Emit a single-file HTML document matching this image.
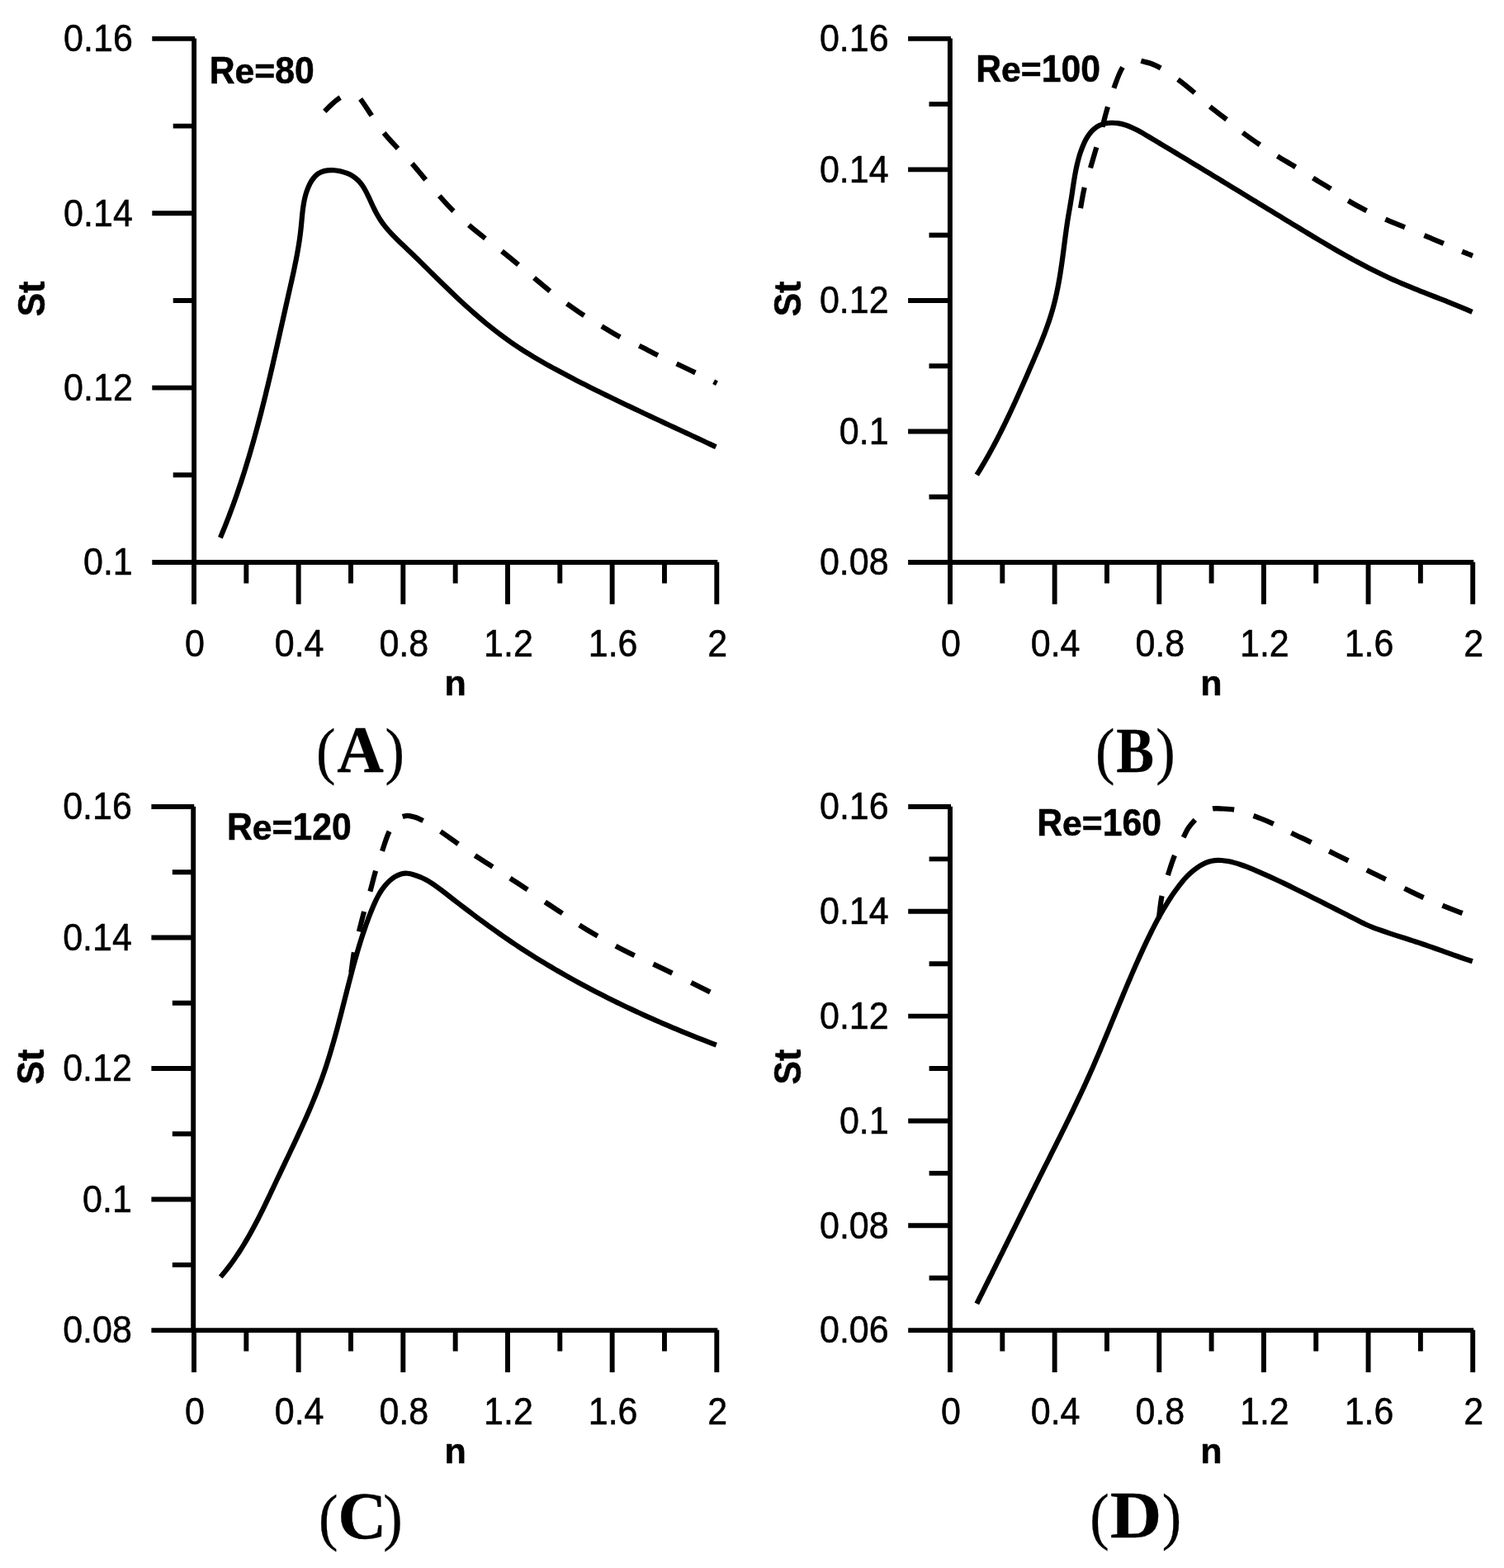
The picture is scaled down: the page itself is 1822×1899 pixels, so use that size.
<!DOCTYPE html>
<html lang="en"><head><meta charset="utf-8"><title>St versus n for Re = 80, 100, 120, 160</title>
<style>html,body{margin:0;padding:0;background:#fff}body{width:1822px;height:1899px;overflow:hidden}svg{display:block}.ax{stroke:#000;stroke-width:5.9;fill:none;stroke-linecap:butt}.cv{stroke:#000;stroke-width:6.2;fill:none;stroke-linecap:butt;stroke-linejoin:round}text{fill:#000;stroke:#000;stroke-width:0.55;stroke-linejoin:round;font-family:"Liberation Sans",Arial,Helvetica,sans-serif;font-size:43.0px}.b{font-weight:bold}.cap{font-family:"Liberation Serif","Times New Roman",serif;font-size:79px;stroke-width:0.3}</style></head><body>
<svg xmlns="http://www.w3.org/2000/svg" width="1822" height="1899" viewBox="0 0 1822 1899">
<rect width="1822" height="1899" fill="#fff"/>
<g id="panel-A">
<path class="ax" d="M235.10 46.60 V681.00M184.30 681.00 H869.30M209.70 575.32 H236.10M184.30 469.63 H236.10M209.70 363.95 H236.10M184.30 258.27 H236.10M209.70 152.58 H236.10M184.30 46.90 H236.10M235.00 680.70 V731.80M298.33 680.70 V706.40M361.66 680.70 V731.80M424.99 680.70 V706.40M488.32 680.70 V731.80M551.65 680.70 V706.40M614.98 680.70 V731.80M678.31 680.70 V706.40M741.64 680.70 V731.80M804.97 680.70 V706.40M868.30 680.70 V731.80"/>
<text y="696.30"><tspan x="101.02" font-size="45.30" textLength="59.78" lengthAdjust="spacingAndGlyphs">0.1</tspan></text>
<text y="484.93"><tspan x="77.11" font-size="45.30" textLength="83.69" lengthAdjust="spacingAndGlyphs">0.12</tspan></text>
<text y="273.57"><tspan x="77.11" font-size="45.30" textLength="83.69" lengthAdjust="spacingAndGlyphs">0.14</tspan></text>
<text y="62.20"><tspan x="77.11" font-size="45.30" textLength="83.69" lengthAdjust="spacingAndGlyphs">0.16</tspan></text>
<text y="795.00"><tspan x="224.04" font-size="45.30" textLength="23.91" lengthAdjust="spacingAndGlyphs">0</tspan></text>
<text y="795.00"><tspan x="332.77" font-size="45.30" textLength="59.78" lengthAdjust="spacingAndGlyphs">0.4</tspan></text>
<text y="795.00"><tspan x="459.43" font-size="45.30" textLength="59.78" lengthAdjust="spacingAndGlyphs">0.8</tspan></text>
<text y="795.00"><tspan x="586.09" font-size="45.30" textLength="59.78" lengthAdjust="spacingAndGlyphs">1.2</tspan></text>
<text y="795.00"><tspan x="712.75" font-size="45.30" textLength="59.78" lengthAdjust="spacingAndGlyphs">1.6</tspan></text>
<text y="795.00"><tspan x="857.34" font-size="45.30" textLength="23.91" lengthAdjust="spacingAndGlyphs">2</tspan></text>
<text class="b" y="841.70"><tspan x="538.43" font-size="42.30" textLength="26.27" lengthAdjust="spacingAndGlyphs">n</tspan></text>
<text class="b" transform="translate(54.10 361.95) rotate(-90)" y="0"><tspan x="-21.35" font-size="45.50" textLength="28.48" lengthAdjust="spacingAndGlyphs">S</tspan><tspan x="7.13" font-size="45.50" textLength="14.22" lengthAdjust="spacingAndGlyphs">t</tspan></text>
<text class="b" y="101.40"><tspan x="253.64" font-size="45.50" textLength="30.84" lengthAdjust="spacingAndGlyphs">R</tspan><tspan x="284.48" font-size="42.50" textLength="48.68" lengthAdjust="spacingAndGlyphs">e=</tspan><tspan x="333.16" font-size="45.50" textLength="47.50" lengthAdjust="spacingAndGlyphs">80</tspan></text>
<path class="cv" d="M266.90 651.20C267.94 648.74 268.96 646.27 269.97 643.80C270.99 641.33 271.99 638.86 272.97 636.38C273.96 633.90 274.93 631.42 275.90 628.94C276.86 626.45 277.81 623.96 278.75 621.46C279.68 618.97 280.61 616.47 281.53 613.97C282.44 611.47 283.35 608.96 284.24 606.46C285.13 603.95 286.02 601.43 286.89 598.92C287.76 596.40 288.62 593.88 289.47 591.36C290.32 588.84 291.16 586.31 292.00 583.78C292.83 581.25 293.65 578.72 294.46 576.19C295.27 573.65 296.08 571.11 296.87 568.57C297.66 566.03 298.45 563.49 299.22 560.94C300.00 558.39 300.77 555.84 301.53 553.29C302.29 550.74 303.04 548.18 303.78 545.63C304.52 543.07 305.26 540.51 305.99 537.95C306.71 535.39 307.43 532.82 308.15 530.26C308.86 527.69 309.57 525.12 310.27 522.55C310.96 519.98 311.66 517.41 312.34 514.83C313.03 512.26 313.71 509.68 314.38 507.10C315.06 504.52 315.73 501.94 316.39 499.36C317.05 496.78 317.71 494.20 318.36 491.61C319.01 489.03 319.66 486.44 320.30 483.85C320.94 481.27 321.58 478.68 322.21 476.09C322.84 473.50 323.47 470.91 324.09 468.31C324.72 465.72 325.34 463.13 325.95 460.53C326.57 457.94 327.18 455.34 327.79 452.75C328.40 450.15 329.01 447.55 329.61 444.95C330.21 442.36 330.81 439.76 331.41 437.16C332.01 434.56 332.60 431.96 333.20 429.36C333.79 426.76 334.38 424.16 334.97 421.56C335.56 418.96 336.15 416.36 336.73 413.76C337.32 411.16 337.90 408.56 338.49 405.96C339.07 403.36 339.65 400.76 340.23 398.15C340.82 395.55 341.40 392.95 341.98 390.35C342.56 387.75 343.14 385.15 343.72 382.55C344.30 379.96 344.88 377.36 345.47 374.76C346.05 372.16 346.63 369.56 347.21 366.97C347.80 364.37 348.38 361.77 348.97 359.18C349.55 356.58 350.14 353.99 350.72 351.39C351.31 348.80 351.90 346.21 352.48 343.61C353.06 341.02 353.64 338.42 354.22 335.83C354.79 333.23 355.35 330.64 355.91 328.04C356.46 325.44 357.01 322.84 357.54 320.24C358.07 317.63 358.59 315.03 359.09 312.42C359.59 309.81 360.08 307.19 360.54 304.58C361.01 301.96 361.45 299.34 361.88 296.71C362.30 294.08 362.70 291.45 363.07 288.81C363.44 286.17 363.79 283.52 364.11 280.87C364.42 278.22 364.71 275.56 364.96 272.89C365.22 270.23 365.46 267.56 365.71 264.89C365.95 262.22 366.21 259.55 366.50 256.89C366.79 254.24 367.12 251.59 367.53 248.96C367.93 246.33 368.40 243.71 368.97 241.12C369.54 238.53 370.21 235.96 371.01 233.42C371.81 230.89 372.74 228.38 373.83 225.91C374.92 223.45 376.16 221.00 377.61 218.74C379.06 216.47 380.72 214.37 382.62 212.61C384.52 210.84 386.69 209.42 389.10 208.42C391.51 207.41 394.13 206.78 396.83 206.44C399.52 206.11 402.27 206.06 404.97 206.23C407.67 206.40 410.34 206.80 412.96 207.41C415.57 208.02 418.14 208.85 420.65 209.88C423.16 210.90 425.60 212.13 427.85 213.57C430.10 215.01 432.13 216.67 433.96 218.52C435.78 220.37 437.42 222.40 438.91 224.56C440.41 226.71 441.77 229.00 443.03 231.36C444.30 233.72 445.48 236.15 446.63 238.61C447.77 241.07 448.88 243.55 450.00 246.00C451.12 248.45 452.26 250.87 453.44 253.25C454.62 255.63 455.84 257.97 457.13 260.27C458.42 262.56 459.77 264.81 461.22 267.01C462.67 269.20 464.21 271.34 465.85 273.43C467.48 275.52 469.20 277.56 470.98 279.56C472.76 281.56 474.61 283.52 476.50 285.46C478.38 287.39 480.31 289.30 482.27 291.19C484.22 293.08 486.19 294.95 488.16 296.81C490.13 298.67 492.10 300.53 494.05 302.39C496.00 304.25 497.93 306.10 499.85 307.96C501.78 309.82 503.68 311.68 505.58 313.54C507.48 315.39 509.37 317.25 511.26 319.11C513.14 320.96 515.02 322.82 516.89 324.67C518.77 326.53 520.63 328.38 522.50 330.23C524.37 332.08 526.24 333.93 528.11 335.78C529.98 337.63 531.85 339.47 533.73 341.31C535.60 343.16 537.48 345.00 539.37 346.83C541.26 348.67 543.16 350.51 545.07 352.34C546.98 354.17 548.89 356.00 550.82 357.82C552.75 359.65 554.69 361.46 556.64 363.28C558.59 365.09 560.55 366.89 562.52 368.69C564.49 370.49 566.47 372.28 568.47 374.06C570.46 375.84 572.47 377.61 574.48 379.37C576.50 381.13 578.52 382.88 580.56 384.62C582.60 386.35 584.65 388.08 586.71 389.78C588.78 391.49 590.85 393.19 592.94 394.87C595.02 396.55 597.12 398.21 599.23 399.86C601.34 401.51 603.46 403.14 605.60 404.75C607.73 406.36 609.88 407.95 612.04 409.53C614.20 411.10 616.38 412.65 618.56 414.18C620.75 415.71 622.95 417.22 625.16 418.71C627.37 420.19 629.60 421.66 631.83 423.10C634.07 424.55 636.32 425.97 638.57 427.38C640.83 428.79 643.10 430.17 645.38 431.55C647.66 432.92 649.95 434.27 652.24 435.61C654.54 436.95 656.85 438.28 659.16 439.59C661.47 440.91 663.79 442.21 666.12 443.49C668.45 444.78 670.78 446.06 673.12 447.33C675.46 448.60 677.81 449.85 680.16 451.10C682.51 452.35 684.86 453.60 687.22 454.83C689.58 456.07 691.94 457.30 694.30 458.52C696.67 459.75 699.03 460.97 701.41 462.18C703.78 463.40 706.15 464.60 708.53 465.81C710.90 467.01 713.28 468.21 715.67 469.40C718.05 470.60 720.44 471.78 722.82 472.97C725.21 474.15 727.60 475.33 729.99 476.51C732.39 477.69 734.78 478.86 737.18 480.03C739.58 481.19 741.98 482.36 744.38 483.52C746.78 484.68 749.18 485.84 751.58 486.99C753.99 488.15 756.40 489.30 758.80 490.45C761.21 491.59 763.62 492.74 766.03 493.88C768.44 495.03 770.85 496.17 773.26 497.31C775.68 498.44 778.09 499.58 780.50 500.71C782.92 501.85 785.33 502.98 787.75 504.11C790.16 505.24 792.58 506.37 795.00 507.50C797.41 508.63 799.83 509.76 802.25 510.88C804.67 512.01 807.08 513.13 809.50 514.26C811.92 515.38 814.33 516.51 816.75 517.63C819.17 518.76 821.59 519.88 824.00 521.00C826.42 522.13 828.83 523.25 831.25 524.37C833.66 525.50 836.08 526.62 838.49 527.75C840.91 528.87 843.32 530.00 845.73 531.12C848.14 532.25 850.55 533.38 852.96 534.51C855.37 535.64 857.78 536.77 860.19 537.90C862.59 539.03 865.00 540.16 867.40 541.30"/>
<path class="cv" d="M393.20 134.90C396.47 131.70 399.54 128.28 403.00 125.30C405.93 122.78 408.93 120.23 412.20 118.20M436.60 119.80C441.56 126.28 445.66 133.38 450.30 140.10M465.10 161.00C470.36 167.60 476.28 173.68 482.00 179.90M499.20 198.10C504.89 204.49 510.17 211.26 515.70 217.80M532.30 237.30C537.87 243.55 543.45 249.82 549.40 255.70M568.00 272.60C574.47 278.15 581.21 283.40 587.90 288.70M608.00 304.30C614.73 309.65 621.37 315.12 628.00 320.60M647.10 336.60C653.49 341.94 659.75 347.46 666.30 352.60M686.80 367.70C693.70 372.63 700.59 377.59 707.70 382.20M729.00 395.10C736.41 399.54 743.65 404.31 751.30 408.30M774.30 418.80C781.93 422.46 789.36 426.55 797.00 430.20M819.60 440.50C827.23 444.06 834.82 447.73 842.40 451.40M864.60 462.30C865.90 462.96 867.20 463.63 868.50 464.30"/>
<text class="cap" y="935.30"><tspan x="382.91" font-size="76.30" textLength="23.44" lengthAdjust="spacingAndGlyphs">(</tspan><tspan x="408.24" font-size="79.40" textLength="56.55" lengthAdjust="spacingAndGlyphs" font-weight="bold">A</tspan><tspan x="466.53" font-size="76.30" textLength="23.44" lengthAdjust="spacingAndGlyphs">)</tspan></text>
</g>
<g id="panel-B">
<path class="ax" d="M1150.90 46.60 V681.00M1100.10 681.00 H1785.20M1125.50 601.74 H1151.90M1100.10 522.48 H1151.90M1125.50 443.21 H1151.90M1100.10 363.95 H1151.90M1125.50 284.69 H1151.90M1100.10 205.42 H1151.90M1125.50 126.16 H1151.90M1100.10 46.90 H1151.90M1151.00 680.70 V731.80M1214.32 680.70 V706.40M1277.64 680.70 V731.80M1340.96 680.70 V706.40M1404.28 680.70 V731.80M1467.60 680.70 V706.40M1530.92 680.70 V731.80M1594.24 680.70 V706.40M1657.56 680.70 V731.80M1720.88 680.70 V706.40M1784.20 680.70 V731.80"/>
<text y="696.30"><tspan x="992.91" font-size="45.30" textLength="83.69" lengthAdjust="spacingAndGlyphs">0.08</tspan></text>
<text y="537.77"><tspan x="1016.82" font-size="45.30" textLength="59.78" lengthAdjust="spacingAndGlyphs">0.1</tspan></text>
<text y="379.25"><tspan x="992.91" font-size="45.30" textLength="83.69" lengthAdjust="spacingAndGlyphs">0.12</tspan></text>
<text y="220.72"><tspan x="992.91" font-size="45.30" textLength="83.69" lengthAdjust="spacingAndGlyphs">0.14</tspan></text>
<text y="62.20"><tspan x="992.91" font-size="45.30" textLength="83.69" lengthAdjust="spacingAndGlyphs">0.16</tspan></text>
<text y="795.00"><tspan x="1140.04" font-size="45.30" textLength="23.91" lengthAdjust="spacingAndGlyphs">0</tspan></text>
<text y="795.00"><tspan x="1248.75" font-size="45.30" textLength="59.78" lengthAdjust="spacingAndGlyphs">0.4</tspan></text>
<text y="795.00"><tspan x="1375.39" font-size="45.30" textLength="59.78" lengthAdjust="spacingAndGlyphs">0.8</tspan></text>
<text y="795.00"><tspan x="1502.03" font-size="45.30" textLength="59.78" lengthAdjust="spacingAndGlyphs">1.2</tspan></text>
<text y="795.00"><tspan x="1628.67" font-size="45.30" textLength="59.78" lengthAdjust="spacingAndGlyphs">1.6</tspan></text>
<text y="795.00"><tspan x="1773.24" font-size="45.30" textLength="23.91" lengthAdjust="spacingAndGlyphs">2</tspan></text>
<text class="b" y="841.70"><tspan x="1454.38" font-size="42.30" textLength="26.27" lengthAdjust="spacingAndGlyphs">n</tspan></text>
<text class="b" transform="translate(969.90 361.95) rotate(-90)" y="0"><tspan x="-21.35" font-size="45.50" textLength="28.48" lengthAdjust="spacingAndGlyphs">S</tspan><tspan x="7.13" font-size="45.50" textLength="14.22" lengthAdjust="spacingAndGlyphs">t</tspan></text>
<text class="b" y="98.90"><tspan x="1182.14" font-size="45.50" textLength="30.84" lengthAdjust="spacingAndGlyphs">R</tspan><tspan x="1212.98" font-size="42.50" textLength="48.68" lengthAdjust="spacingAndGlyphs">e=</tspan><tspan x="1261.66" font-size="45.50" textLength="71.24" lengthAdjust="spacingAndGlyphs">100</tspan></text>
<path class="cv" d="M1183.30 575.10C1184.72 572.83 1186.13 570.55 1187.52 568.26C1188.90 565.97 1190.27 563.68 1191.63 561.38C1192.98 559.08 1194.31 556.77 1195.63 554.45C1196.95 552.14 1198.25 549.81 1199.54 547.48C1200.82 545.16 1202.09 542.82 1203.35 540.48C1204.61 538.14 1205.85 535.79 1207.08 533.44C1208.31 531.08 1209.53 528.72 1210.73 526.36C1211.94 524.00 1213.13 521.63 1214.31 519.25C1215.49 516.88 1216.66 514.50 1217.82 512.11C1218.98 509.73 1220.13 507.34 1221.27 504.94C1222.42 502.55 1223.55 500.15 1224.67 497.75C1225.80 495.35 1226.91 492.94 1228.02 490.53C1229.13 488.12 1230.23 485.70 1231.33 483.29C1232.43 480.87 1233.52 478.45 1234.61 476.02C1235.69 473.60 1236.77 471.17 1237.85 468.74C1238.93 466.31 1240.00 463.88 1241.07 461.44C1242.14 459.01 1243.21 456.57 1244.28 454.13C1245.35 451.69 1246.41 449.25 1247.48 446.81C1248.54 444.36 1249.60 441.92 1250.67 439.47C1251.73 437.02 1252.79 434.57 1253.84 432.12C1254.90 429.67 1255.94 427.21 1256.98 424.75C1258.01 422.29 1259.04 419.83 1260.05 417.36C1261.06 414.89 1262.06 412.42 1263.04 409.94C1264.02 407.46 1264.98 404.98 1265.92 402.49C1266.86 399.99 1267.78 397.50 1268.67 394.99C1269.56 392.48 1270.43 389.97 1271.26 387.45C1272.10 384.92 1272.90 382.39 1273.68 379.85C1274.45 377.31 1275.19 374.76 1275.89 372.20C1276.59 369.64 1277.25 367.07 1277.89 364.49C1278.52 361.92 1279.12 359.33 1279.69 356.73C1280.26 354.14 1280.80 351.54 1281.32 348.93C1281.84 346.32 1282.33 343.71 1282.80 341.09C1283.27 338.47 1283.71 335.84 1284.14 333.21C1284.57 330.59 1284.98 327.95 1285.38 325.32C1285.78 322.69 1286.16 320.05 1286.53 317.41C1286.90 314.77 1287.26 312.13 1287.61 309.50C1287.96 306.86 1288.30 304.22 1288.64 301.58C1288.98 298.94 1289.32 296.30 1289.66 293.67C1290.00 291.03 1290.34 288.39 1290.69 285.76C1291.04 283.12 1291.40 280.49 1291.77 277.85C1292.13 275.22 1292.51 272.59 1292.91 269.95C1293.31 267.32 1293.72 264.69 1294.16 262.06C1294.59 259.43 1295.05 256.80 1295.50 254.17C1295.96 251.55 1296.41 248.92 1296.86 246.29C1297.30 243.66 1297.73 241.03 1298.13 238.40C1298.54 235.77 1298.93 233.15 1299.32 230.52C1299.71 227.89 1300.09 225.27 1300.49 222.65C1300.89 220.03 1301.31 217.41 1301.74 214.80C1302.18 212.19 1302.65 209.58 1303.16 206.98C1303.66 204.38 1304.21 201.79 1304.81 199.21C1305.41 196.62 1306.07 194.05 1306.79 191.48C1307.51 188.92 1308.31 186.36 1309.18 183.82C1310.06 181.28 1311.02 178.75 1312.07 176.23C1313.13 173.72 1314.28 171.22 1315.57 168.83C1316.86 166.44 1318.28 164.14 1319.87 162.03C1321.45 159.91 1323.20 157.97 1325.16 156.28C1327.11 154.59 1329.27 153.16 1331.59 152.03C1333.92 150.90 1336.41 150.07 1339.00 149.53C1341.59 149.00 1344.28 148.75 1346.99 148.75C1349.70 148.74 1352.43 148.98 1355.10 149.41C1357.77 149.84 1360.38 150.48 1362.92 151.26C1365.46 152.05 1367.95 153.00 1370.38 154.05C1372.82 155.11 1375.21 156.28 1377.57 157.53C1379.94 158.77 1382.27 160.09 1384.58 161.44C1386.90 162.79 1389.19 164.16 1391.49 165.53C1393.79 166.90 1396.08 168.27 1398.37 169.64C1400.65 171.00 1402.94 172.37 1405.22 173.74C1407.50 175.10 1409.78 176.47 1412.05 177.83C1414.32 179.19 1416.60 180.56 1418.87 181.92C1421.14 183.29 1423.41 184.65 1425.67 186.02C1427.94 187.38 1430.21 188.75 1432.47 190.12C1434.74 191.49 1437.01 192.85 1439.27 194.22C1441.54 195.59 1443.80 196.96 1446.07 198.34C1448.34 199.71 1450.61 201.08 1452.87 202.46C1455.14 203.83 1457.41 205.21 1459.68 206.59C1461.95 207.96 1464.22 209.34 1466.49 210.72C1468.76 212.10 1471.03 213.48 1473.30 214.86C1475.57 216.24 1477.84 217.63 1480.11 219.01C1482.38 220.39 1484.65 221.78 1486.92 223.16C1489.19 224.54 1491.46 225.93 1493.74 227.32C1496.01 228.70 1498.28 230.09 1500.55 231.47C1502.83 232.86 1505.10 234.25 1507.37 235.64C1509.65 237.02 1511.92 238.41 1514.19 239.80C1516.47 241.19 1518.74 242.57 1521.01 243.96C1523.29 245.35 1525.56 246.74 1527.83 248.13C1530.11 249.52 1532.38 250.91 1534.66 252.29C1536.93 253.68 1539.21 255.07 1541.48 256.46C1543.76 257.85 1546.03 259.23 1548.31 260.62C1550.58 262.01 1552.86 263.40 1555.13 264.78C1557.41 266.17 1559.68 267.56 1561.96 268.94C1564.23 270.33 1566.51 271.71 1568.78 273.10C1571.06 274.48 1573.33 275.86 1575.61 277.25C1577.88 278.63 1580.16 280.01 1582.43 281.39C1584.71 282.77 1586.99 284.15 1589.27 285.52C1591.55 286.89 1593.83 288.26 1596.11 289.63C1598.39 290.99 1600.68 292.36 1602.96 293.71C1605.25 295.07 1607.54 296.42 1609.83 297.76C1612.12 299.11 1614.42 300.45 1616.72 301.78C1619.02 303.11 1621.32 304.43 1623.63 305.75C1625.94 307.07 1628.25 308.37 1630.56 309.67C1632.88 310.97 1635.20 312.26 1637.53 313.54C1639.85 314.82 1642.19 316.09 1644.52 317.34C1646.86 318.60 1649.20 319.85 1651.55 321.08C1653.90 322.32 1656.26 323.54 1658.62 324.75C1660.99 325.96 1663.36 327.15 1665.73 328.33C1668.11 329.52 1670.50 330.68 1672.89 331.84C1675.28 332.99 1677.68 334.13 1680.09 335.25C1682.50 336.37 1684.92 337.47 1687.35 338.56C1689.78 339.65 1692.22 340.72 1694.66 341.78C1697.11 342.83 1699.56 343.87 1702.02 344.90C1704.48 345.93 1706.94 346.95 1709.41 347.96C1711.88 348.96 1714.36 349.96 1716.84 350.95C1719.31 351.94 1721.80 352.93 1724.28 353.90C1726.76 354.88 1729.25 355.86 1731.73 356.83C1734.22 357.80 1736.71 358.77 1739.19 359.74C1741.68 360.71 1744.16 361.68 1746.64 362.66C1749.13 363.63 1751.60 364.61 1754.08 365.59C1756.56 366.57 1759.03 367.56 1761.49 368.56C1763.96 369.55 1766.42 370.56 1768.87 371.57C1771.33 372.58 1773.77 373.61 1776.21 374.65C1778.65 375.68 1781.08 376.73 1783.50 377.80"/>
<path class="cv" d="M1309.00 252.20C1310.60 243.77 1311.74 235.22 1313.80 226.90M1321.00 203.30C1323.48 194.98 1325.88 186.64 1328.30 178.30M1335.40 153.60C1337.65 145.55 1339.60 137.41 1342.00 129.40M1349.40 106.70C1352.55 98.16 1355.25 89.23 1360.00 81.50M1382.30 73.80C1386.32 75.01 1390.56 75.58 1394.50 77.00C1398.54 78.46 1402.40 80.48 1406.20 82.50M1427.00 96.20C1434.01 101.30 1440.70 106.87 1447.30 112.50M1465.80 129.20C1472.31 134.63 1479.34 139.43 1486.00 144.70M1505.50 160.60C1512.26 165.76 1519.26 170.62 1526.30 175.40M1547.50 189.10C1554.76 193.62 1562.22 197.81 1569.50 202.30M1590.60 215.70C1597.78 220.13 1605.20 224.16 1612.30 228.70M1633.30 243.00C1640.52 247.42 1648.04 251.39 1655.60 255.20M1678.30 265.70C1686.09 269.08 1694.05 272.05 1701.90 275.30M1725.40 285.20C1733.22 288.44 1741.11 291.50 1748.90 294.80M1771.20 304.60C1775.45 306.38 1779.73 308.07 1784.00 309.80"/>
<text class="cap" y="934.90"><tspan x="1327.11" font-size="76.30" textLength="23.44" lengthAdjust="spacingAndGlyphs">(</tspan><tspan x="1352.26" font-size="78.80" textLength="45.76" lengthAdjust="spacingAndGlyphs" font-weight="bold">B</tspan><tspan x="1400.33" font-size="76.30" textLength="23.44" lengthAdjust="spacingAndGlyphs">)</tspan></text>
</g>
<g id="panel-C">
<path class="ax" d="M234.20 976.70 V1611.10M183.40 1611.10 H869.30M208.80 1531.84 H235.20M183.40 1452.57 H235.20M208.80 1373.31 H235.20M183.40 1294.05 H235.20M208.80 1214.79 H235.20M183.40 1135.53 H235.20M208.80 1056.26 H235.20M183.40 977.00 H235.20M235.00 1610.80 V1661.90M298.33 1610.80 V1636.50M361.66 1610.80 V1661.90M424.99 1610.80 V1636.50M488.32 1610.80 V1661.90M551.65 1610.80 V1636.50M614.98 1610.80 V1661.90M678.31 1610.80 V1636.50M741.64 1610.80 V1661.90M804.97 1610.80 V1636.50M868.30 1610.80 V1661.90"/>
<text y="1626.40"><tspan x="76.21" font-size="45.30" textLength="83.69" lengthAdjust="spacingAndGlyphs">0.08</tspan></text>
<text y="1467.87"><tspan x="100.12" font-size="45.30" textLength="59.78" lengthAdjust="spacingAndGlyphs">0.1</tspan></text>
<text y="1309.35"><tspan x="76.21" font-size="45.30" textLength="83.69" lengthAdjust="spacingAndGlyphs">0.12</tspan></text>
<text y="1150.83"><tspan x="76.21" font-size="45.30" textLength="83.69" lengthAdjust="spacingAndGlyphs">0.14</tspan></text>
<text y="992.30"><tspan x="76.21" font-size="45.30" textLength="83.69" lengthAdjust="spacingAndGlyphs">0.16</tspan></text>
<text y="1725.10"><tspan x="224.04" font-size="45.30" textLength="23.91" lengthAdjust="spacingAndGlyphs">0</tspan></text>
<text y="1725.10"><tspan x="332.77" font-size="45.30" textLength="59.78" lengthAdjust="spacingAndGlyphs">0.4</tspan></text>
<text y="1725.10"><tspan x="459.43" font-size="45.30" textLength="59.78" lengthAdjust="spacingAndGlyphs">0.8</tspan></text>
<text y="1725.10"><tspan x="586.09" font-size="45.30" textLength="59.78" lengthAdjust="spacingAndGlyphs">1.2</tspan></text>
<text y="1725.10"><tspan x="712.75" font-size="45.30" textLength="59.78" lengthAdjust="spacingAndGlyphs">1.6</tspan></text>
<text y="1725.10"><tspan x="857.34" font-size="45.30" textLength="23.91" lengthAdjust="spacingAndGlyphs">2</tspan></text>
<text class="b" y="1771.80"><tspan x="538.43" font-size="42.30" textLength="26.27" lengthAdjust="spacingAndGlyphs">n</tspan></text>
<text class="b" transform="translate(53.20 1292.05) rotate(-90)" y="0"><tspan x="-21.35" font-size="45.50" textLength="28.48" lengthAdjust="spacingAndGlyphs">S</tspan><tspan x="7.13" font-size="45.50" textLength="14.22" lengthAdjust="spacingAndGlyphs">t</tspan></text>
<text class="b" y="1017.00"><tspan x="274.94" font-size="45.50" textLength="30.84" lengthAdjust="spacingAndGlyphs">R</tspan><tspan x="305.78" font-size="42.50" textLength="48.68" lengthAdjust="spacingAndGlyphs">e=</tspan><tspan x="354.46" font-size="45.50" textLength="71.24" lengthAdjust="spacingAndGlyphs">120</tspan></text>
<path class="cv" d="M267.20 1546.60C268.95 1544.56 270.66 1542.50 272.34 1540.42C274.02 1538.34 275.66 1536.24 277.27 1534.11C278.88 1531.99 280.46 1529.85 282.00 1527.68C283.55 1525.52 285.06 1523.34 286.54 1521.14C288.03 1518.94 289.49 1516.73 290.92 1514.50C292.35 1512.26 293.75 1510.02 295.13 1507.75C296.51 1505.49 297.86 1503.22 299.20 1500.93C300.53 1498.64 301.85 1496.34 303.14 1494.02C304.43 1491.71 305.71 1489.38 306.96 1487.05C308.22 1484.71 309.46 1482.36 310.68 1480.01C311.91 1477.65 313.12 1475.29 314.32 1472.92C315.52 1470.55 316.70 1468.17 317.88 1465.79C319.05 1463.41 320.22 1461.02 321.38 1458.62C322.54 1456.23 323.69 1453.83 324.83 1451.43C325.98 1449.03 327.12 1446.62 328.25 1444.22C329.39 1441.81 330.53 1439.40 331.66 1437.00C332.79 1434.59 333.92 1432.18 335.06 1429.78C336.19 1427.37 337.33 1424.96 338.47 1422.56C339.61 1420.16 340.75 1417.76 341.89 1415.36C343.04 1412.96 344.18 1410.56 345.32 1408.16C346.47 1405.77 347.61 1403.37 348.76 1400.97C349.90 1398.58 351.04 1396.18 352.18 1393.78C353.32 1391.39 354.45 1388.99 355.59 1386.59C356.72 1384.19 357.85 1381.79 358.97 1379.39C360.10 1376.99 361.21 1374.58 362.33 1372.18C363.44 1369.77 364.55 1367.36 365.64 1364.95C366.74 1362.54 367.83 1360.13 368.92 1357.71C370.00 1355.29 371.07 1352.87 372.14 1350.45C373.20 1348.02 374.25 1345.59 375.30 1343.16C376.34 1340.72 377.37 1338.28 378.39 1335.84C379.41 1333.40 380.41 1330.95 381.41 1328.49C382.40 1326.04 383.38 1323.57 384.34 1321.11C385.31 1318.64 386.25 1316.16 387.19 1313.68C388.12 1311.20 389.04 1308.71 389.94 1306.21C390.83 1303.72 391.72 1301.21 392.58 1298.70C393.44 1296.19 394.29 1293.67 395.12 1291.14C395.95 1288.61 396.76 1286.08 397.56 1283.54C398.36 1281.00 399.14 1278.45 399.92 1275.90C400.69 1273.35 401.45 1270.79 402.19 1268.23C402.94 1265.67 403.67 1263.10 404.40 1260.53C405.12 1257.96 405.84 1255.39 406.55 1252.81C407.25 1250.23 407.95 1247.65 408.64 1245.07C409.33 1242.49 410.01 1239.91 410.69 1237.32C411.37 1234.74 412.04 1232.15 412.71 1229.56C413.38 1226.97 414.04 1224.39 414.70 1221.80C415.37 1219.21 416.02 1216.62 416.68 1214.04C417.34 1211.45 418.00 1208.86 418.65 1206.28C419.31 1203.70 419.97 1201.11 420.62 1198.53C421.28 1195.96 421.94 1193.38 422.61 1190.81C423.27 1188.23 423.94 1185.66 424.61 1183.10C425.28 1180.53 425.96 1177.97 426.64 1175.41C427.33 1172.86 428.02 1170.31 428.71 1167.76C429.41 1165.22 430.12 1162.68 430.83 1160.14C431.55 1157.61 432.27 1155.08 433.01 1152.55C433.75 1150.03 434.50 1147.50 435.27 1144.99C436.03 1142.47 436.82 1139.96 437.61 1137.45C438.41 1134.94 439.23 1132.43 440.06 1129.93C440.89 1127.43 441.75 1124.93 442.62 1122.43C443.50 1119.93 444.40 1117.44 445.32 1114.95C446.24 1112.45 447.18 1109.96 448.15 1107.47C449.12 1104.98 450.12 1102.49 451.15 1100.01C452.17 1097.52 453.24 1095.04 454.36 1092.60C455.47 1090.15 456.65 1087.74 457.92 1085.39C459.18 1083.03 460.53 1080.74 461.98 1078.53C463.44 1076.32 465.00 1074.19 466.70 1072.17C468.40 1070.16 470.24 1068.25 472.23 1066.49C474.22 1064.72 476.38 1063.07 478.67 1061.68C480.97 1060.30 483.39 1059.18 485.89 1058.48C488.40 1057.77 491.00 1057.53 493.63 1057.77C496.25 1058.01 498.89 1058.65 501.45 1059.40C504.00 1060.15 506.49 1061.06 508.92 1062.10C511.35 1063.13 513.73 1064.30 516.05 1065.56C518.38 1066.83 520.66 1068.20 522.91 1069.64C525.15 1071.09 527.36 1072.61 529.54 1074.18C531.73 1075.75 533.89 1077.37 536.03 1079.01C538.18 1080.65 540.31 1082.32 542.43 1083.98C544.56 1085.64 546.68 1087.30 548.80 1088.95C550.93 1090.60 553.05 1092.24 555.17 1093.88C557.29 1095.51 559.41 1097.14 561.53 1098.76C563.65 1100.38 565.77 1101.99 567.89 1103.59C570.01 1105.20 572.13 1106.79 574.25 1108.38C576.38 1109.97 578.50 1111.55 580.63 1113.13C582.75 1114.70 584.88 1116.27 587.02 1117.82C589.15 1119.38 591.28 1120.93 593.42 1122.47C595.56 1124.01 597.71 1125.55 599.85 1127.07C602.00 1128.59 604.15 1130.11 606.31 1131.62C608.47 1133.13 610.63 1134.63 612.80 1136.12C614.97 1137.61 617.14 1139.09 619.32 1140.57C621.51 1142.04 623.69 1143.51 625.89 1144.96C628.09 1146.42 630.29 1147.87 632.50 1149.31C634.71 1150.75 636.93 1152.18 639.15 1153.60C641.38 1155.03 643.61 1156.44 645.85 1157.84C648.09 1159.25 650.33 1160.65 652.59 1162.03C654.84 1163.42 657.10 1164.80 659.37 1166.17C661.63 1167.55 663.90 1168.91 666.18 1170.26C668.46 1171.62 670.74 1172.96 673.04 1174.30C675.33 1175.64 677.62 1176.97 679.93 1178.29C682.23 1179.61 684.54 1180.92 686.85 1182.23C689.17 1183.53 691.49 1184.83 693.81 1186.12C696.14 1187.41 698.47 1188.69 700.80 1189.96C703.14 1191.23 705.48 1192.50 707.83 1193.75C710.17 1195.01 712.52 1196.26 714.88 1197.50C717.24 1198.74 719.60 1199.97 721.96 1201.19C724.33 1202.42 726.70 1203.64 729.07 1204.84C731.45 1206.05 733.83 1207.25 736.21 1208.45C738.59 1209.64 740.98 1210.82 743.37 1212.00C745.77 1213.18 748.16 1214.35 750.56 1215.51C752.96 1216.67 755.36 1217.83 757.77 1218.97C760.18 1220.12 762.59 1221.26 765.00 1222.39C767.41 1223.52 769.83 1224.64 772.25 1225.76C774.67 1226.88 777.09 1227.98 779.52 1229.09C781.95 1230.19 784.38 1231.28 786.81 1232.37C789.24 1233.45 791.68 1234.53 794.11 1235.60C796.55 1236.68 798.99 1237.74 801.43 1238.80C803.88 1239.85 806.32 1240.90 808.77 1241.95C811.21 1242.99 813.66 1244.02 816.11 1245.05C818.56 1246.08 821.02 1247.10 823.47 1248.11C825.93 1249.13 828.38 1250.13 830.84 1251.13C833.30 1252.13 835.76 1253.12 838.22 1254.11C840.68 1255.09 843.14 1256.07 845.61 1257.04C848.07 1258.01 850.53 1258.98 853.00 1259.94C855.46 1260.89 857.93 1261.84 860.40 1262.79C862.86 1263.73 865.33 1264.67 867.80 1265.60"/>
<path class="cv" d="M425.30 1178.00C426.50 1169.80 427.35 1161.53 428.90 1153.40M434.90 1128.20C436.90 1120.12 438.87 1112.02 441.10 1104.00M448.40 1079.60C450.75 1071.33 452.63 1062.93 455.10 1054.70M463.00 1030.80C465.76 1022.80 467.93 1014.50 471.60 1006.90M487.70 989.00C489.61 988.37 491.70 987.88 493.70 987.80C496.81 987.68 499.99 988.85 503.00 989.80C506.31 990.85 509.47 992.47 512.60 994.00M533.70 1007.00C540.99 1011.80 547.95 1017.09 555.10 1022.10M575.40 1036.20C582.46 1040.89 589.77 1045.21 596.90 1049.80M618.00 1063.60C625.04 1068.22 632.14 1072.76 639.10 1077.50M660.30 1092.40C667.23 1097.11 674.34 1101.53 681.30 1106.20M701.90 1120.30C709.13 1124.95 716.56 1129.29 724.00 1133.60M745.90 1145.80C753.42 1149.79 761.02 1153.63 768.70 1157.30M791.40 1167.60C799.10 1171.19 806.76 1174.89 814.40 1178.60M837.30 1189.90C844.98 1193.73 852.63 1197.63 860.30 1201.50"/>
<text class="cap" y="1863.00"><tspan x="386.11" font-size="76.30" textLength="23.44" lengthAdjust="spacingAndGlyphs">(</tspan><tspan x="409.30" font-size="81.00" textLength="59.15" lengthAdjust="spacingAndGlyphs" font-weight="bold">C</tspan><tspan x="464.33" font-size="76.30" textLength="23.44" lengthAdjust="spacingAndGlyphs">)</tspan></text>
</g>
<g id="panel-D">
<path class="ax" d="M1151.00 976.70 V1611.10M1100.20 1611.10 H1785.20M1125.60 1547.69 H1152.00M1100.20 1484.28 H1152.00M1125.60 1420.87 H1152.00M1100.20 1357.46 H1152.00M1125.60 1294.05 H1152.00M1100.20 1230.64 H1152.00M1125.60 1167.23 H1152.00M1100.20 1103.82 H1152.00M1125.60 1040.41 H1152.00M1100.20 977.00 H1152.00M1151.00 1610.80 V1661.90M1214.32 1610.80 V1636.50M1277.64 1610.80 V1661.90M1340.96 1610.80 V1636.50M1404.28 1610.80 V1661.90M1467.60 1610.80 V1636.50M1530.92 1610.80 V1661.90M1594.24 1610.80 V1636.50M1657.56 1610.80 V1661.90M1720.88 1610.80 V1636.50M1784.20 1610.80 V1661.90"/>
<text y="1626.40"><tspan x="993.01" font-size="45.30" textLength="83.69" lengthAdjust="spacingAndGlyphs">0.06</tspan></text>
<text y="1499.58"><tspan x="993.01" font-size="45.30" textLength="83.69" lengthAdjust="spacingAndGlyphs">0.08</tspan></text>
<text y="1372.76"><tspan x="1016.92" font-size="45.30" textLength="59.78" lengthAdjust="spacingAndGlyphs">0.1</tspan></text>
<text y="1245.94"><tspan x="993.01" font-size="45.30" textLength="83.69" lengthAdjust="spacingAndGlyphs">0.12</tspan></text>
<text y="1119.12"><tspan x="993.01" font-size="45.30" textLength="83.69" lengthAdjust="spacingAndGlyphs">0.14</tspan></text>
<text y="992.30"><tspan x="993.01" font-size="45.30" textLength="83.69" lengthAdjust="spacingAndGlyphs">0.16</tspan></text>
<text y="1725.10"><tspan x="1140.04" font-size="45.30" textLength="23.91" lengthAdjust="spacingAndGlyphs">0</tspan></text>
<text y="1725.10"><tspan x="1248.75" font-size="45.30" textLength="59.78" lengthAdjust="spacingAndGlyphs">0.4</tspan></text>
<text y="1725.10"><tspan x="1375.39" font-size="45.30" textLength="59.78" lengthAdjust="spacingAndGlyphs">0.8</tspan></text>
<text y="1725.10"><tspan x="1502.03" font-size="45.30" textLength="59.78" lengthAdjust="spacingAndGlyphs">1.2</tspan></text>
<text y="1725.10"><tspan x="1628.67" font-size="45.30" textLength="59.78" lengthAdjust="spacingAndGlyphs">1.6</tspan></text>
<text y="1725.10"><tspan x="1773.24" font-size="45.30" textLength="23.91" lengthAdjust="spacingAndGlyphs">2</tspan></text>
<text class="b" y="1771.80"><tspan x="1454.38" font-size="42.30" textLength="26.27" lengthAdjust="spacingAndGlyphs">n</tspan></text>
<text class="b" transform="translate(970.00 1292.05) rotate(-90)" y="0"><tspan x="-21.35" font-size="45.50" textLength="28.48" lengthAdjust="spacingAndGlyphs">S</tspan><tspan x="7.13" font-size="45.50" textLength="14.22" lengthAdjust="spacingAndGlyphs">t</tspan></text>
<text class="b" y="1011.60"><tspan x="1256.14" font-size="45.50" textLength="30.84" lengthAdjust="spacingAndGlyphs">R</tspan><tspan x="1286.98" font-size="42.50" textLength="48.68" lengthAdjust="spacingAndGlyphs">e=</tspan><tspan x="1335.66" font-size="45.50" textLength="71.24" lengthAdjust="spacingAndGlyphs">160</tspan></text>
<path class="cv" d="M1183.30 1578.90C1184.50 1576.51 1185.70 1574.13 1186.89 1571.74C1188.09 1569.35 1189.29 1566.96 1190.48 1564.58C1191.68 1562.19 1192.87 1559.80 1194.06 1557.40C1195.26 1555.01 1196.45 1552.62 1197.64 1550.23C1198.83 1547.84 1200.03 1545.44 1201.22 1543.05C1202.41 1540.66 1203.60 1538.26 1204.79 1535.87C1205.98 1533.47 1207.16 1531.07 1208.35 1528.68C1209.54 1526.28 1210.73 1523.89 1211.92 1521.49C1213.10 1519.09 1214.29 1516.70 1215.48 1514.30C1216.67 1511.90 1217.85 1509.50 1219.04 1507.10C1220.23 1504.71 1221.41 1502.31 1222.60 1499.91C1223.79 1497.51 1224.97 1495.11 1226.16 1492.71C1227.35 1490.32 1228.53 1487.92 1229.72 1485.52C1230.91 1483.12 1232.09 1480.72 1233.28 1478.33C1234.47 1475.93 1235.66 1473.53 1236.84 1471.13C1238.03 1468.73 1239.22 1466.34 1240.41 1463.94C1241.60 1461.54 1242.79 1459.15 1243.98 1456.75C1245.17 1454.35 1246.36 1451.96 1247.55 1449.56C1248.74 1447.17 1249.93 1444.77 1251.12 1442.38C1252.31 1439.99 1253.51 1437.59 1254.70 1435.20C1255.89 1432.81 1257.09 1430.42 1258.28 1428.02C1259.48 1425.63 1260.68 1423.24 1261.87 1420.85C1263.07 1418.46 1264.27 1416.07 1265.47 1413.69C1266.67 1411.30 1267.87 1408.91 1269.07 1406.52C1270.27 1404.14 1271.47 1401.75 1272.67 1399.36C1273.86 1396.97 1275.06 1394.59 1276.26 1392.20C1277.46 1389.81 1278.65 1387.42 1279.85 1385.04C1281.04 1382.65 1282.23 1380.26 1283.43 1377.87C1284.62 1375.48 1285.81 1373.09 1286.99 1370.70C1288.18 1368.30 1289.36 1365.91 1290.54 1363.52C1291.72 1361.12 1292.90 1358.73 1294.08 1356.33C1295.25 1353.93 1296.42 1351.53 1297.59 1349.13C1298.75 1346.73 1299.92 1344.32 1301.07 1341.92C1302.23 1339.51 1303.39 1337.10 1304.53 1334.69C1305.68 1332.28 1306.83 1329.87 1307.96 1327.45C1309.10 1325.04 1310.23 1322.62 1311.36 1320.20C1312.49 1317.77 1313.61 1315.35 1314.72 1312.92C1315.83 1310.49 1316.94 1308.06 1318.04 1305.62C1319.14 1303.19 1320.24 1300.75 1321.32 1298.30C1322.41 1295.86 1323.49 1293.41 1324.56 1290.96C1325.63 1288.51 1326.70 1286.06 1327.76 1283.60C1328.82 1281.14 1329.87 1278.68 1330.92 1276.22C1331.97 1273.76 1333.01 1271.29 1334.06 1268.83C1335.10 1266.36 1336.13 1263.89 1337.17 1261.42C1338.20 1258.95 1339.23 1256.48 1340.26 1254.00C1341.29 1251.53 1342.31 1249.05 1343.33 1246.58C1344.36 1244.10 1345.38 1241.63 1346.40 1239.15C1347.42 1236.67 1348.44 1234.20 1349.46 1231.72C1350.48 1229.24 1351.50 1226.76 1352.52 1224.29C1353.54 1221.81 1354.57 1219.34 1355.59 1216.86C1356.61 1214.39 1357.64 1211.92 1358.66 1209.44C1359.69 1206.97 1360.72 1204.50 1361.75 1202.03C1362.79 1199.56 1363.82 1197.10 1364.86 1194.63C1365.90 1192.17 1366.94 1189.71 1367.99 1187.25C1369.04 1184.79 1370.09 1182.33 1371.15 1179.88C1372.21 1177.43 1373.27 1174.98 1374.34 1172.53C1375.41 1170.08 1376.49 1167.64 1377.57 1165.20C1378.66 1162.76 1379.75 1160.33 1380.85 1157.90C1381.95 1155.47 1383.05 1153.05 1384.17 1150.63C1385.28 1148.21 1386.41 1145.79 1387.54 1143.38C1388.67 1140.97 1389.82 1138.57 1390.97 1136.17C1392.13 1133.77 1393.29 1131.38 1394.48 1129.00C1395.66 1126.62 1396.86 1124.24 1398.08 1121.88C1399.29 1119.51 1400.53 1117.16 1401.79 1114.81C1403.04 1112.46 1404.32 1110.13 1405.62 1107.81C1406.92 1105.48 1408.25 1103.17 1409.60 1100.88C1410.95 1098.58 1412.33 1096.29 1413.74 1094.02C1415.15 1091.75 1416.59 1089.50 1418.06 1087.26C1419.53 1085.02 1421.04 1082.79 1422.58 1080.59C1424.12 1078.38 1425.69 1076.19 1427.32 1074.04C1428.94 1071.88 1430.61 1069.77 1432.34 1067.70C1434.06 1065.64 1435.85 1063.64 1437.70 1061.71C1439.56 1059.78 1441.48 1057.92 1443.49 1056.16C1445.49 1054.40 1447.57 1052.74 1449.75 1051.18C1451.92 1049.63 1454.19 1048.18 1456.55 1046.91C1458.90 1045.64 1461.34 1044.55 1463.85 1043.71C1466.36 1042.88 1468.95 1042.32 1471.59 1042.05C1474.23 1041.78 1476.92 1041.79 1479.61 1041.99C1482.30 1042.19 1485.00 1042.57 1487.65 1043.07C1490.30 1043.56 1492.92 1044.17 1495.50 1044.87C1498.09 1045.56 1500.64 1046.35 1503.17 1047.20C1505.70 1048.05 1508.21 1048.97 1510.70 1049.93C1513.18 1050.90 1515.66 1051.91 1518.12 1052.94C1520.58 1053.97 1523.04 1055.02 1525.49 1056.08C1527.94 1057.15 1530.38 1058.22 1532.82 1059.31C1535.25 1060.40 1537.68 1061.50 1540.11 1062.62C1542.54 1063.73 1544.96 1064.85 1547.37 1065.99C1549.79 1067.12 1552.20 1068.26 1554.61 1069.41C1557.02 1070.57 1559.42 1071.73 1561.83 1072.89C1564.23 1074.06 1566.63 1075.23 1569.02 1076.41C1571.42 1077.59 1573.81 1078.78 1576.20 1079.97C1578.59 1081.16 1580.98 1082.36 1583.37 1083.55C1585.76 1084.75 1588.14 1085.95 1590.53 1087.16C1592.92 1088.36 1595.30 1089.57 1597.69 1090.77C1600.07 1091.98 1602.46 1093.18 1604.84 1094.39C1607.23 1095.60 1609.61 1096.80 1612.00 1098.01C1614.39 1099.21 1616.78 1100.41 1619.16 1101.62C1621.55 1102.83 1623.93 1104.04 1626.32 1105.25C1628.70 1106.46 1631.08 1107.68 1633.46 1108.90C1635.84 1110.12 1638.22 1111.35 1640.60 1112.58C1642.97 1113.82 1645.34 1115.06 1647.73 1116.26C1650.12 1117.46 1652.52 1118.63 1654.96 1119.73C1657.40 1120.83 1659.87 1121.85 1662.35 1122.82C1664.84 1123.79 1667.35 1124.73 1669.86 1125.64C1672.38 1126.55 1674.90 1127.43 1677.43 1128.30C1679.95 1129.17 1682.49 1130.02 1685.03 1130.86C1687.57 1131.69 1690.11 1132.52 1692.66 1133.33C1695.21 1134.15 1697.76 1134.96 1700.31 1135.77C1702.86 1136.58 1705.41 1137.39 1707.95 1138.21C1710.50 1139.02 1713.05 1139.84 1715.59 1140.68C1718.13 1141.51 1720.67 1142.36 1723.20 1143.21C1725.73 1144.07 1728.26 1144.95 1730.78 1145.83C1733.30 1146.71 1735.83 1147.60 1738.34 1148.49C1740.86 1149.39 1743.38 1150.29 1745.90 1151.19C1748.41 1152.09 1750.93 1152.99 1753.45 1153.89C1755.96 1154.79 1758.48 1155.69 1761.00 1156.58C1763.52 1157.47 1766.05 1158.35 1768.58 1159.22C1771.10 1160.10 1773.63 1160.96 1776.17 1161.81C1778.71 1162.65 1781.25 1163.49 1783.80 1164.30"/>
<path class="cv" d="M1403.80 1112.40C1405.07 1103.27 1405.67 1093.99 1407.60 1085.00M1414.80 1060.00C1417.34 1051.94 1419.77 1043.80 1423.00 1036.00M1433.60 1014.20C1435.56 1010.38 1437.24 1006.36 1439.60 1002.80C1441.97 999.23 1444.84 995.92 1447.80 992.80M1469.10 979.40C1473.24 978.60 1477.71 979.30 1482.00 979.50C1486.37 979.70 1490.80 979.90 1495.10 980.60M1518.50 988.00C1526.72 990.96 1534.85 994.27 1542.80 997.90M1564.30 1008.70C1572.36 1012.65 1580.52 1016.39 1588.60 1020.30M1610.20 1030.90C1617.94 1034.72 1625.69 1038.53 1633.40 1042.40M1655.80 1053.80C1663.43 1057.60 1671.13 1061.27 1678.80 1065.00M1701.40 1076.00C1709.12 1079.73 1716.77 1083.61 1724.60 1087.10M1747.40 1096.60C1755.43 1099.83 1763.53 1102.87 1771.60 1106.00"/>
<text class="cap" y="1862.00"><tspan x="1320.21" font-size="76.30" textLength="23.44" lengthAdjust="spacingAndGlyphs">(</tspan><tspan x="1344.78" font-size="79.40" textLength="62.61" lengthAdjust="spacingAndGlyphs" font-weight="bold">D</tspan><tspan x="1407.73" font-size="76.30" textLength="23.44" lengthAdjust="spacingAndGlyphs">)</tspan></text>
</g>
</svg></body></html>
